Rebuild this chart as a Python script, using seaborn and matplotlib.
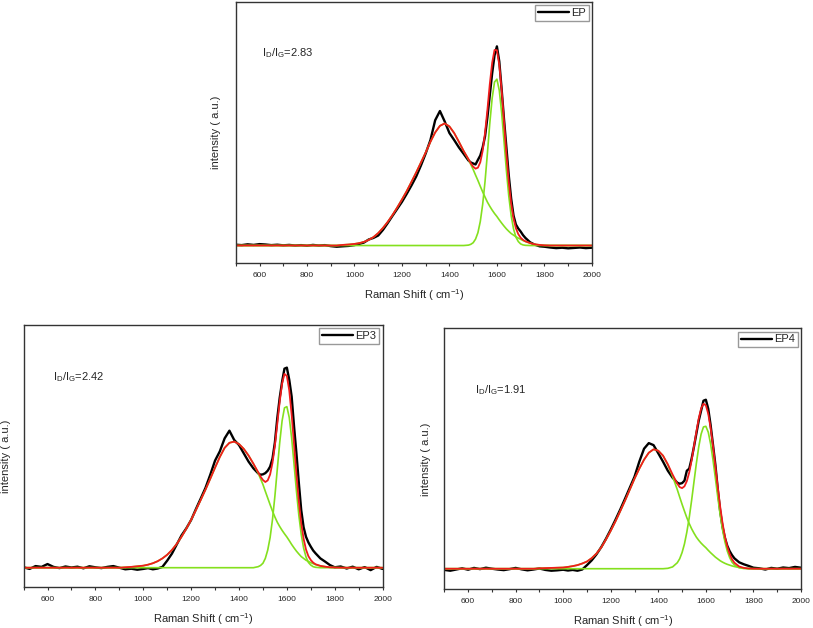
import pandas as pd
import matplotlib
matplotlib.use("Agg")
import matplotlib.pyplot as plt
from matplotlib.ticker import MultipleLocator
import seaborn as sns

# Raman shift sampling (cm-1), finer around the G band
SHIFT = [500, 525, 550, 575, 600, 625, 650, 675, 700, 725, 750, 775, 800, 825, 850, 875, 900, 925, 950, 975,
         1000, 1020, 1040, 1060, 1080, 1100, 1120, 1140, 1160, 1180, 1200, 1220, 1240, 1260, 1280, 1300,
         1320, 1340, 1360, 1380, 1400, 1420, 1440, 1460,
         1480, 1490, 1500, 1510, 1520, 1530, 1540, 1550, 1560, 1570, 1580, 1590, 1600, 1610, 1620, 1630,
         1640, 1650, 1660, 1670, 1680, 1690, 1700, 1710, 1720,
         1740, 1760, 1780, 1800,
         1825, 1850, 1875, 1900, 1925, 1950, 1975, 2000]

# ---- EP ----
EP_RAW = [0.004, 0.002, 0.006, 0.003, 0.007, 0.005, 0.002, 0.004, 0.001, 0.003, 0.0, 0.002, -0.001, 0.003, 0.0, 0.002, -0.003, -0.006, -0.004, -0.002,
          0.002, 0.008, 0.015, 0.03, 0.038, 0.05, 0.078, 0.112, 0.148, 0.183, 0.218, 0.258, 0.3, 0.345, 0.4, 0.46, 0.527, 0.626, 0.672, 0.62,
          0.562, 0.527, 0.49, 0.458,
          0.425, 0.415, 0.41, 0.405, 0.428, 0.45, 0.49, 0.545, 0.64, 0.75, 0.86, 0.95, 0.995, 0.92, 0.78, 0.63,
          0.49, 0.35, 0.235, 0.15, 0.105, 0.085, 0.07, 0.052, 0.038,
          0.016, 0.004, -0.004, -0.006,
          -0.01, -0.013, -0.011, -0.014, -0.012, -0.01, -0.013, -0.011]
EP_FIT = [0, 0, 0, 0, 0, 0, 0, 0, 0, 0, 0, 0, 0, 0, 0, 0, 0, 0, 0.003, 0.005,
          0.008, 0.012, 0.018, 0.028, 0.042, 0.062, 0.088, 0.118, 0.152, 0.19, 0.23, 0.272, 0.318, 0.365, 0.415, 0.465, 0.518, 0.565, 0.598, 0.61,
          0.595, 0.562, 0.518, 0.472,
          0.432, 0.411, 0.394, 0.384, 0.389, 0.416, 0.473, 0.562, 0.678, 0.806, 0.913, 0.977, 0.976, 0.903, 0.775, 0.617,
          0.458, 0.318, 0.21, 0.135, 0.086, 0.057, 0.039, 0.028, 0.021,
          0.012, 0.006, 0.003, 0.001,
          0, 0, 0, 0, 0, 0, 0, 0]
EP_D = [0, 0, 0, 0, 0, 0, 0, 0, 0, 0, 0, 0, 0, 0, 0, 0, 0, 0, 0.003, 0.005,
        0.008, 0.012, 0.018, 0.028, 0.042, 0.062, 0.088, 0.118, 0.152, 0.19, 0.23, 0.272, 0.318, 0.365, 0.415, 0.465, 0.518, 0.565, 0.598, 0.61,
        0.595, 0.562, 0.518, 0.472,
        0.43, 0.405, 0.38, 0.352, 0.325, 0.296, 0.268, 0.242, 0.217, 0.196, 0.177, 0.16, 0.145, 0.128, 0.112, 0.097,
        0.083, 0.071, 0.06, 0.052, 0.044, 0.037, 0.031, 0.025, 0.02,
        0.012, 0.006, 0.003, 0.001,
        0, 0, 0, 0, 0, 0, 0, 0]
EP_G = [0, 0, 0, 0, 0, 0, 0, 0, 0, 0, 0, 0, 0, 0, 0, 0, 0, 0, 0, 0,
        0, 0, 0, 0, 0, 0, 0, 0, 0, 0, 0, 0, 0, 0, 0, 0, 0, 0, 0, 0,
        0, 0, 0, 0,
        0.002, 0.006, 0.014, 0.032, 0.064, 0.12, 0.205, 0.32, 0.461, 0.61, 0.736, 0.817, 0.831, 0.775, 0.663, 0.52,
        0.375, 0.247, 0.15, 0.083, 0.042, 0.02, 0.008, 0.003, 0.001,
        0, 0, 0, 0,
        0, 0, 0, 0, 0, 0, 0, 0]

# ---- EP3 ----
EP3_RAW = [0.002, -0.006, 0.008, 0.004, 0.018, 0.004, -0.002, 0.006, 0.001, 0.005, -0.003, 0.007, 0.002, -0.002, 0.004, 0.008, 0.0, -0.008, -0.005, -0.01,
           -0.006, -0.002, -0.008, -0.004, 0.004, 0.035, 0.07, 0.115, 0.16, 0.195, 0.236, 0.29, 0.342, 0.395, 0.46, 0.53, 0.576, 0.64, 0.678, 0.632,
           0.607, 0.566, 0.525, 0.492,
           0.467, 0.46, 0.462, 0.468, 0.48, 0.5, 0.54, 0.62, 0.74, 0.84, 0.92, 0.985, 0.99, 0.93, 0.847, 0.7,
           0.566, 0.42, 0.285, 0.2, 0.153, 0.125, 0.104, 0.085, 0.071,
           0.046, 0.03, 0.013, 0.002,
           0.006, -0.004, 0.005, -0.008, 0.003, -0.012, 0.004, -0.006]
EP3_FIT = [0, 0, 0, 0, 0, 0, 0, 0, 0, 0, 0, 0, 0, 0, 0, 0, 0, 0.002, 0.004, 0.007,
           0.01, 0.015, 0.022, 0.032, 0.046, 0.064, 0.088, 0.118, 0.153, 0.193, 0.237, 0.285, 0.335, 0.386, 0.44, 0.495, 0.548, 0.593, 0.618, 0.624,
           0.612, 0.588, 0.555, 0.515,
           0.473, 0.451, 0.434, 0.424, 0.432, 0.461, 0.519, 0.605, 0.712, 0.821, 0.911, 0.959, 0.949, 0.877, 0.757, 0.611,
           0.462, 0.328, 0.22, 0.143, 0.09, 0.057, 0.038, 0.025, 0.017,
           0.009, 0.005, 0.002, 0.001,
           0, 0, 0, 0, 0, 0, 0, 0]
EP3_D = [0, 0, 0, 0, 0, 0, 0, 0, 0, 0, 0, 0, 0, 0, 0, 0, 0, 0.002, 0.004, 0.007,
         0.01, 0.015, 0.022, 0.032, 0.046, 0.064, 0.088, 0.118, 0.153, 0.193, 0.237, 0.285, 0.335, 0.386, 0.44, 0.495, 0.548, 0.593, 0.618, 0.624,
         0.612, 0.588, 0.555, 0.515,
         0.468, 0.44, 0.412, 0.378, 0.345, 0.312, 0.28, 0.251, 0.225, 0.204, 0.185, 0.168, 0.152, 0.134, 0.115, 0.098,
         0.082, 0.068, 0.055, 0.046, 0.037, 0.031, 0.025, 0.02, 0.015,
         0.009, 0.005, 0.002, 0.001,
         0, 0, 0, 0, 0, 0, 0, 0]
EP3_G = [0, 0, 0, 0, 0, 0, 0, 0, 0, 0, 0, 0, 0, 0, 0, 0, 0, 0, 0, 0,
         0, 0, 0, 0, 0, 0, 0, 0, 0, 0, 0, 0, 0, 0, 0, 0, 0, 0, 0, 0,
         0, 0, 0, 0,
         0.005, 0.011, 0.022, 0.046, 0.087, 0.149, 0.239, 0.354, 0.487, 0.617, 0.726, 0.791, 0.797, 0.743, 0.642, 0.513,
         0.38, 0.26, 0.165, 0.097, 0.053, 0.026, 0.013, 0.005, 0.002,
         0, 0, 0, 0,
         0, 0, 0, 0, 0, 0, 0, 0]

# ---- EP4 ----
EP4_RAW = [-0.006, -0.01, -0.004, 0.002, -0.005, 0.004, -0.002, 0.005, 0.0, -0.004, -0.007, -0.002, 0.004, -0.003, -0.008, -0.004, 0.001, -0.006, -0.01, -0.008,
           -0.005, -0.009, -0.006, -0.01, -0.004, 0.018, 0.042, 0.072, 0.108, 0.15, 0.196, 0.245, 0.296, 0.35, 0.405, 0.46, 0.535, 0.6, 0.628, 0.618,
           0.577, 0.535, 0.49, 0.455,
           0.43, 0.425, 0.428, 0.44, 0.49, 0.5, 0.55, 0.61, 0.675, 0.74, 0.79, 0.84, 0.845, 0.8, 0.718, 0.62,
           0.52, 0.4, 0.29, 0.21, 0.155, 0.115, 0.088, 0.068, 0.052,
           0.032, 0.022, 0.014, 0.005,
           0.002, -0.004, 0.004, 0.0, 0.006, 0.003, 0.009, 0.005]
EP4_FIT = [0, 0, 0, 0, 0, 0, 0, 0, 0, 0, 0, 0, 0, 0, 0, 0, 0.002, 0.003, 0.004, 0.005,
           0.006, 0.009, 0.013, 0.018, 0.026, 0.036, 0.053, 0.076, 0.106, 0.146, 0.19, 0.237, 0.288, 0.34, 0.395, 0.45, 0.5, 0.545, 0.58, 0.597,
           0.59, 0.565, 0.522, 0.471,
           0.425, 0.408, 0.403, 0.412, 0.438, 0.481, 0.541, 0.612, 0.684, 0.751, 0.801, 0.825, 0.817, 0.775, 0.704, 0.613,
           0.511, 0.408, 0.312, 0.229, 0.162, 0.111, 0.074, 0.047, 0.03,
           0.011, 0.004, 0.001, 0.0,
           0, 0, 0, 0, 0, 0, 0, 0]
EP4_D = [0, 0, 0, 0, 0, 0, 0, 0, 0, 0, 0, 0, 0, 0, 0, 0, 0.002, 0.003, 0.004, 0.005,
         0.006, 0.009, 0.013, 0.018, 0.026, 0.036, 0.053, 0.076, 0.106, 0.146, 0.19, 0.237, 0.288, 0.34, 0.395, 0.45, 0.5, 0.545, 0.58, 0.597,
         0.59, 0.565, 0.52, 0.462,
         0.395, 0.358, 0.322, 0.288, 0.255, 0.226, 0.2, 0.178, 0.158, 0.142, 0.128, 0.116, 0.105, 0.092, 0.08, 0.069,
         0.058, 0.049, 0.04, 0.033, 0.027, 0.022, 0.018, 0.014, 0.011,
         0.006, 0.003, 0.001, 0.0,
         0, 0, 0, 0, 0, 0, 0, 0]
EP4_G = [0, 0, 0, 0, 0, 0, 0, 0, 0, 0, 0, 0, 0, 0, 0, 0, 0, 0, 0, 0,
         0, 0, 0, 0, 0, 0, 0, 0, 0, 0, 0, 0, 0, 0, 0, 0, 0, 0, 0, 0,
         0, 0, 0.002, 0.009,
         0.03, 0.05, 0.081, 0.124, 0.183, 0.255, 0.341, 0.434, 0.526, 0.609, 0.673, 0.709, 0.712, 0.683, 0.624, 0.544,
         0.453, 0.359, 0.272, 0.196, 0.135, 0.089, 0.056, 0.033, 0.019,
         0.005, 0.001, 0, 0,
         0, 0, 0, 0, 0, 0, 0, 0]

SAMPLES = ["EP", "EP3", "EP4"]
RATIOS = ["2.83", "2.42", "1.91"]

RED = "#f01c1c"
GREEN = "#84e01e"


def make_frame(raw, fit, dband, gband):
    return pd.DataFrame({"shift": SHIFT, "raw": raw, "fit": fit, "D": dband, "G": gband})


def draw_panel(ax, df, name, ratio, ylim, text_pos, ylabelpad):
    sns.lineplot(data=df, x="shift", y="raw", ax=ax, color="black", lw=1.7,
                 estimator=None, sort=False, label=name)
    sns.lineplot(data=df, x="shift", y="D", ax=ax, color=GREEN, lw=1.2,
                 estimator=None, sort=False)
    sns.lineplot(data=df, x="shift", y="G", ax=ax, color=GREEN, lw=1.2,
                 estimator=None, sort=False)
    sns.lineplot(data=df, x="shift", y="fit", ax=ax, color=RED, lw=1.3,
                 estimator=None, sort=False)

    ax.set_xlim(500, 2000)
    ax.set_ylim(*ylim)
    ax.set_yticks([])
    ax.xaxis.set_major_locator(MultipleLocator(200))
    ax.xaxis.set_minor_locator(MultipleLocator(100))
    ax.tick_params(axis="x", which="both", direction="out", length=2.5, width=0.8,
                   labelsize=6, pad=4, color="#333333")
    for sp in ax.spines.values():
        sp.set_color("#333333")
        sp.set_linewidth(1.0)

    ax.set_xlabel(r"Raman Shift ( cm$^{-1}$)", fontsize=8, labelpad=6)
    ax.set_ylabel("intensity ( a.u.)", fontsize=8, labelpad=ylabelpad)
    ax.text(text_pos[0], text_pos[1], r"I$_D$/I$_G$=" + ratio, transform=ax.transAxes,
            fontsize=8, va="center", ha="left")

    handles = ax.get_lines()[:1]
    ax.legend(handles=handles, labels=[name], loc="upper right", fontsize=8,
              fancybox=False, edgecolor="#999999", framealpha=1,
              handlelength=2.8, handletextpad=0.2, borderpad=0.25,
              borderaxespad=0.3)


sns.set_style("ticks")
plt.rcParams["font.family"] = ["Liberation Sans", "DejaVu Sans"]
plt.rcParams["mathtext.default"] = "regular"

fig = plt.figure(figsize=(8.13, 6.28), dpi=100)
ax_top = fig.add_axes([0.290, 0.581, 0.438, 0.4156])
ax_bl = fig.add_axes([0.029, 0.0648, 0.4416, 0.4177])
ax_br = fig.add_axes([0.5465, 0.0616, 0.4387, 0.4156])

frames = [
    make_frame(EP_RAW, EP_FIT, EP_D, EP_G),
    make_frame(EP3_RAW, EP3_FIT, EP3_D, EP3_G),
    make_frame(EP4_RAW, EP4_FIT, EP4_D, EP4_G),
]

draw_panel(ax_top, frames[0], SAMPLES[0], RATIOS[0], (-0.088, 1.216), (0.074, 0.803), 10.5)
draw_panel(ax_bl, frames[1], SAMPLES[1], RATIOS[1], (-0.097, 1.201), (0.082, 0.80), 9)
draw_panel(ax_br, frames[2], SAMPLES[2], RATIOS[2], (-0.103, 1.202), (0.086, 0.763), 9.5)

fig.savefig("out.png", dpi=100)
